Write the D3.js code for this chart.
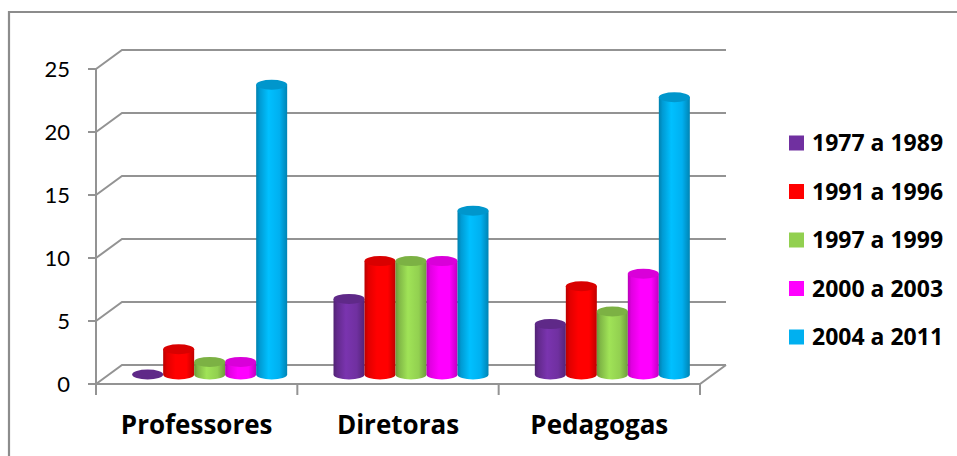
<!DOCTYPE html>
<html>
<head>
<meta charset="utf-8">
<script src="https://cdn.jsdelivr.net/npm/d3@7"></script>
<style>
  html, body { margin: 0; padding: 0; background: #fff; }
  svg { display: block; }
  text { font-family: Lato, "Open Sans", sans-serif; fill: #000; }
  .bold-label { font-family: "Open Sans", Lato, sans-serif; font-weight: bold; }
</style>
</head>
<body>
<svg id="chart" width="957" height="456"></svg>
<script>
// Categories and series
const categories = ["Professores", "Diretoras", "Pedagogas"];
const seriesNames = ["1977 a 1989", "1991 a 1996", "1997 a 1999", "2000 a 2003", "2004 a 2011"];
const seriesColors = ["#7030A0", "#FF0000", "#92D050", "#FF00FF", "#00B0F0"];
const values = [
  [0, 6, 4],     // 1977 a 1989
  [2, 9, 7],     // 1991 a 1996
  [1, 9, 5],     // 1997 a 1999
  [1, 9, 8],     // 2000 a 2003
  [23, 13, 22]   // 2004 a 2011
];
const yTicks = [0, 5, 10, 15, 20, 25];

const svg = d3.select("#chart");

// Outer frame
svg.append("path")
  .attr("d", "M9,456 V12 H957")
  .attr("fill", "none").attr("stroke", "#8c8c8c").attr("stroke-width", 2.2);

// Plot geometry: front plane plus depth offset for the 3D box
const x0 = 96, x1 = 700;
const depth = { dx: 26, dy: -19 };
const y = d3.scaleLinear().domain([0, 25]).range([384, 69]);
const xBand = d3.scaleBand().domain(categories).range([x0, x1]);
const gridColor = "#939393";

const grid = svg.append("g").attr("fill", "none").attr("stroke", gridColor).attr("stroke-width", 2);

// Back wall gridlines and side-wall diagonals
yTicks.forEach(t => {
  const yf = y(t);
  grid.append("path")
    .attr("d", `M${x0},${yf} L${x0 + depth.dx},${yf + depth.dy} H${x1 + depth.dx}`);
});

// Floor front edge and right diagonal
grid.append("path")
  .attr("d", `M${x0},${y(0)} H${x1} L${x1 + depth.dx},${y(0) + depth.dy}`);

// Value axis line with ticks
grid.append("path").attr("d", `M${x0},${y(25)} V${y(0) + 10}`);
yTicks.forEach(t => {
  grid.append("path").attr("d", `M${x0 - 8},${y(t)} H${x0}`);
});

// Category ticks
[x0, ...categories.map(c => xBand(c) + xBand.bandwidth())].forEach(xv => {
  grid.append("path").attr("d", `M${xv},${y(0)} V${y(0) + 11}`);
});

// Value labels
svg.append("g").selectAll("text").data(yTicks).join("text")
  .attr("x", 70).attr("y", d => y(d))
  .attr("dy", "0.36em")
  .attr("text-anchor", "end")
  .attr("font-size", 22)
  .text(d => d);

// Category labels
svg.append("g").selectAll("text").data(categories).join("text")
  .attr("class", "bold-label")
  .attr("x", d => xBand(d) + xBand.bandwidth() / 2)
  .attr("y", 434)
  .attr("text-anchor", "middle")
  .attr("font-size", 26)
  .text(d => d);

// Cylinder gradients per series
const defs = svg.append("defs");
seriesColors.forEach((c, i) => {
  const base = d3.color(c);
  const g = defs.append("linearGradient").attr("id", "cyl" + i)
    .attr("x1", "0").attr("x2", "1").attr("y1", "0").attr("y2", "0");
  g.append("stop").attr("offset", "0").attr("stop-color", base.darker(0.9));
  g.append("stop").attr("offset", "0.12").attr("stop-color", base.darker(0.35));
  g.append("stop").attr("offset", "0.4").attr("stop-color", base.brighter(0.25));
  g.append("stop").attr("offset", "0.75").attr("stop-color", base);
  g.append("stop").attr("offset", "1").attr("stop-color", base.darker(0.8));
});

// Bars sit at mid-depth inside the box
const barW = 31;
const ry = 5;
const xSeries = d3.scaleBand().domain(d3.range(seriesNames.length)).range([0, barW * seriesNames.length]);
const groupOffset = (xBand.bandwidth() - barW * seriesNames.length) / 2 + depth.dx / 2;
const yOff = depth.dy / 2;

const bars = svg.append("g");
categories.forEach((cat, ci) => {
  seriesNames.forEach((s, si) => {
    const v = values[si][ci];
    const left = xBand(cat) + groupOffset + xSeries(si);
    const cx = left + barW / 2;
    const rx = barW / 2;
    const yb = y(0) + yOff;
    const yt = y(v) + yOff;
    const g = bars.append("g");
    if (v > 0) {
      g.append("path")
        .attr("d", `M${left},${yt} V${yb} A${rx},${ry} 0 0 0 ${left + barW},${yb} V${yt} Z`)
        .attr("fill", `url(#cyl${si})`);
    }
    g.append("ellipse")
      .attr("cx", cx).attr("cy", yt)
      .attr("rx", rx).attr("ry", ry)
      .attr("fill", d3.color(seriesColors[si]).darker(0.45));
  });
});

// Legend
const legend = svg.append("g").attr("transform", "translate(789,143)");
const lg = legend.selectAll("g").data(seriesNames).join("g")
  .attr("transform", (d, i) => `translate(0,${i * 48.5})`);
lg.append("rect")
  .attr("x", 0).attr("y", -7.5).attr("width", 15).attr("height", 15)
  .attr("fill", (d, i) => seriesColors[i]);
lg.append("text")
  .attr("class", "bold-label")
  .attr("x", 23).attr("y", 0).attr("dy", "0.36em")
  .attr("font-size", 23)
  .text(d => d);
</script>
</body>
</html>
